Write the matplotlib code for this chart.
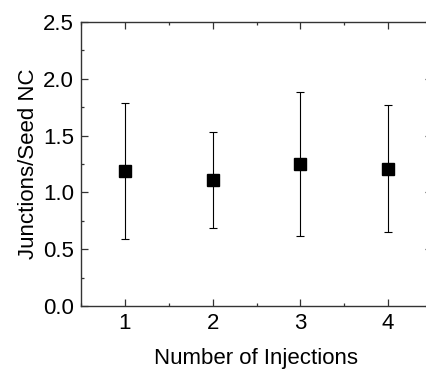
import matplotlib
matplotlib.use("Agg")
import matplotlib.pyplot as plt
from matplotlib.ticker import MultipleLocator

# values
injections = [1, 2, 3, 4]
junctions = [1.19, 1.11, 1.25, 1.21]
errors = [0.60, 0.42, 0.63, 0.56]

plt.rcParams['font.family'] = ['Liberation Sans', 'DejaVu Sans']

fig = plt.figure(figsize=(4.26, 3.70), dpi=100)
# right edge runs past the figure, as in the cropped original
ax = fig.add_axes([81 / 426, 64 / 370, 351 / 426, 284 / 370])

ax.errorbar(injections, junctions, yerr=errors, fmt='s', color='black',
            markersize=8.5, elinewidth=0.8, capsize=3, capthick=0.8)

ax.set_xlim(0.5, 4.5)
ax.set_ylim(0, 2.5)
ax.xaxis.set_major_locator(MultipleLocator(1))
ax.xaxis.set_minor_locator(MultipleLocator(0.5))
ax.yaxis.set_major_locator(MultipleLocator(0.5))
ax.yaxis.set_minor_locator(MultipleLocator(0.25))
ax.tick_params(which='both', direction='in', top=True, right=True,
               labelsize=16, width=0.9, color='#333333')
ax.tick_params(which='major', length=5, pad=5)
ax.tick_params(which='minor', length=2.5)
for s in ax.spines.values():
    s.set_linewidth(1.0)
    s.set_color('#333333')

ax.set_xlabel('Number of Injections', fontsize=16, labelpad=10)
ax.set_ylabel('Junctions/Seed NC', fontsize=16, labelpad=3)

fig.savefig('out.png', dpi=100)
